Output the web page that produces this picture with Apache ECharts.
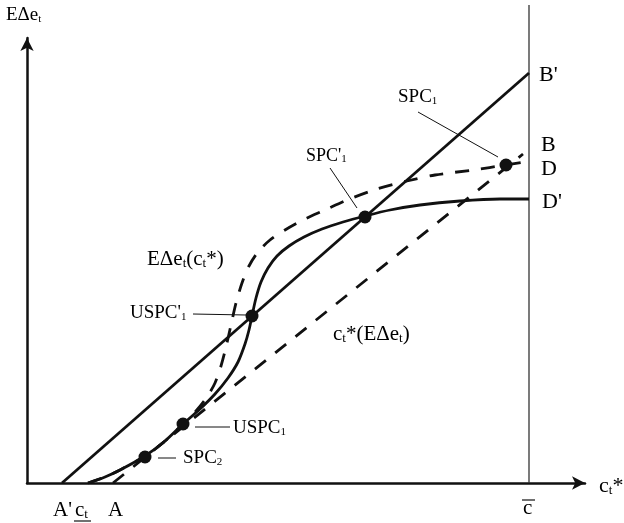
<!DOCTYPE html>
<html>
<head>
<meta charset="utf-8">
<script src="https://cdn.jsdelivr.net/npm/echarts@6/dist/echarts.min.js"></script>
<style>
html,body{margin:0;padding:0;background:#fff;}
#c{width:624px;height:523px;}
</style>
</head>
<body>
<div id="c"></div>
<script>
// ---- data (units: chart scale, origin at axes crossing) ----
const lineAB1 = [[35, 0], [502, 410]];            // A'B' (solid straight)
const lineAB = [[86, 0], [496, 329]];             // AB : c_t*(EΔe_t) (dashed straight)
const curveD1 = [[61,0],[78,6],[93,13],[118,27],[138,42],[156,59],[173,74],[188,89],[201,105],[211,121],[218,139],[222,153],[225,167],[229,185],[234,201],[241,215],[250,227],[262,237],[277,246],[295,254],[316,261],[338,267],[363,273],[393,278],[433,282],[473,284],[502,284]]; // D' solid S
const curveD = [[61,0],[78,6],[93,13],[118,27],[138,42],[156,59],[169,72],[180,86],[188,100],[194,117],[199,136],[204,158],[209,180],[215,200],[222,217],[231,231],[243,243],[258,253],[276,263],[298,273],[320,283],[350,294],[380,302],[408,308],[446,313],[479,318],[498,321]]; // D dashed S
const cBarX = 502;
const cBarTop = 478;
const points = [[118,26],[156,59],[225,167],[338,266],[479,318]]; // SPC2, USPC1, USPC'1, SPC'1, SPC1
const xMax = 558, yMax = 445;

const FONT = 'Liberation Serif, Times New Roman, serif';
const chart = echarts.init(document.getElementById('c'), null, {renderer: 'canvas'});

function rich(size) {
  return {
    n: {fontSize: size, fontFamily: FONT, lineHeight: size, verticalAlign: 'bottom', color: '#111'},
    t: {fontSize: Math.round(size * 0.6), fontFamily: FONT, lineHeight: 6, verticalAlign: 'bottom', color: '#111'}
  };
}
function txt(str, x, base, size) {
  return {
    type: 'text', x: x, y: base + Math.round(size * 0.17), z: 100,
    style: {text: str, rich: rich(size), verticalAlign: 'bottom', align: 'left', fontSize: size, fontFamily: FONT}
  };
}
function seg(x1, y1, x2, y2, w) {
  return {type: 'line', z: 100, shape: {x1: x1, y1: y1, x2: x2, y2: y2}, style: {stroke: '#111', lineWidth: w || 1}};
}

const solid = {color: '#111', width: 2.8};
const dashed = {color: '#111', width: 2.8, type: [14, 12]};

chart.setOption({
  animation: false,
  backgroundColor: '#fff',
  grid: {left: 27, right: 39, top: 38, bottom: 40},
  xAxis: {type: 'value', min: 0, max: xMax,
    axisLine: {show: true, symbol: ['none', 'arrow'], symbolSize: [10, 13], lineStyle: {color: '#111', width: 2.5}},
    axisTick: {show: false}, axisLabel: {show: false}, splitLine: {show: false}},
  yAxis: {type: 'value', min: 0, max: yMax,
    axisLine: {show: true, symbol: ['none', 'arrow'], symbolSize: [10, 13], lineStyle: {color: '#111', width: 2.5}},
    axisTick: {show: false}, axisLabel: {show: false}, splitLine: {show: false}},
  series: [
    {type: 'line', data: [[cBarX, 0], [cBarX, cBarTop]], clip: false, showSymbol: false, lineStyle: {color: '#333', width: 1.3}},
    {type: 'line', data: lineAB1, showSymbol: false, lineStyle: solid},
    {type: 'line', data: lineAB, showSymbol: false, lineStyle: dashed},
    {type: 'line', data: curveD1, smooth: 0.3, showSymbol: false, lineStyle: solid},
    {type: 'line', data: curveD, smooth: 0.3, showSymbol: false, lineStyle: dashed},
    {type: 'scatter', data: points, symbolSize: 13, itemStyle: {color: '#111', opacity: 1}, z: 10}
  ],
  graphic: [
    txt('{n|EΔe}{t|t}', 6, 22, 19),
    txt('{n|c}{t|t}{n|*}', 599, 493, 22),
    txt("{n|B'}", 539, 82, 22),
    txt('{n|B}', 541, 152, 22),
    txt('{n|D}', 541, 176, 22),
    txt("{n|D'}", 542, 209, 22),
    txt('{n|SPC}{t|1}', 398, 104, 19),
    txt("{n|SPC'}{t|1}", 306, 162, 18),
    txt('{n|EΔe}{t|t}{n|(c}{t|t}{n|*)}', 147, 266, 21),
    txt("{n|USPC'}{t|1}", 130, 320, 19),
    txt('{n|c}{t|t}{n|*(EΔe}{t|t}{n|)}', 333, 341, 21),
    txt('{n|USPC}{t|1}', 233, 435, 19),
    txt('{n|SPC}{t|2}', 183, 465, 19),
    txt("{n|A'}", 53, 517, 21),
    txt('{n|c}{t|t}', 75, 517, 21),
    txt('{n|A}', 108, 517, 21),
    txt('{n|c}', 523, 515, 21),
    seg(74, 521, 91, 521, 1.2),
    seg(522, 500, 535, 500, 1.2),
    seg(418, 112, 498, 157, 1),
    seg(330, 168, 357, 208, 1),
    seg(193, 314, 246, 315, 1),
    seg(195, 427, 230, 427, 1),
    seg(158, 458, 176, 458, 1)
  ]
});
</script>
</body>
</html>
